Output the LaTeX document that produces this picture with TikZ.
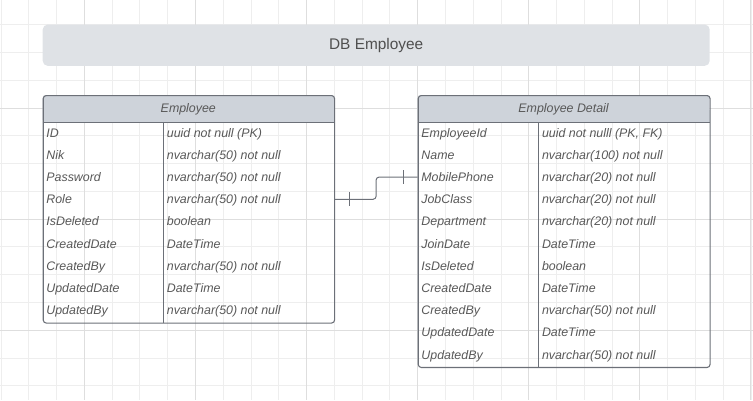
\documentclass[tikz,border=0pt]{standalone}
\usepackage{fontspec}
\setmainfont{Liberation Sans}
\usepackage{tikz}
\usetikzlibrary{positioning}
\definecolor{gridminor}{RGB}{238,238,238}
\definecolor{gridmajor}{RGB}{222,222,222}
\definecolor{titlefill}{RGB}{223,226,230}
\definecolor{headfill}{RGB}{206,211,218}
\definecolor{framegray}{RGB}{108,112,120}
\definecolor{textgray}{RGB}{88,88,88}

\begin{document}
\begin{tikzpicture}[x=1pt,y=-1pt,
  titlebox/.style={fill=titlefill,rounded corners=5,minimum width=667,minimum height=41.3,inner sep=0pt,text=textgray!90!black,font=\fontsize{15.4}{18}\selectfont},
  tableframe/.style={draw=framegray,line width=1.1pt,rounded corners=3,inner sep=0pt,anchor=north west},
  headtext/.style={inner sep=0pt,text=textgray,font=\fontsize{12.4}{14}\selectfont\itshape},
  field/.style={anchor=base west,inner sep=0pt,text=textgray,font=\fontsize{12.4}{14}\selectfont\itshape},
  link/.style={draw=framegray,line width=1pt,rounded corners=3}]
\useasboundingbox (0,0) rectangle (753,400);
% grid
\foreach \k in {0,...,27} \draw[gridminor,line width=0.9pt] ({0.97+27.78*\k},0) -- ({0.97+27.78*\k},400);
\foreach \k in {0,...,13} \draw[gridminor,line width=0.9pt] (0,{24.7+27.78*\k}) -- (753,{24.7+27.78*\k});
\foreach \x in {84.3,195.4,306.5,417.6,528.7,639.8,750.9} \draw[gridmajor,line width=0.9pt] (\x,0) -- (\x,400);
\foreach \y in {108,219.1,330.2} \draw[gridmajor,line width=0.9pt] (0,\y) -- (753,\y);
% title
\node[titlebox] (title) at (376.2,45.2) {DB Employee};
% employee table
\fill[headfill,rounded corners=3] (42.7,95) rectangle (334,122.7);
\fill[headfill] (42.7,110) rectangle (334,122.7);
\node[headtext] (emphead) at (188.3,109.1) {Employee};
\draw[framegray,line width=1.1pt] (42.7,122.7) -- (334,122.7);
\draw[framegray,line width=1pt] (163,122.7) -- (163,322.5);
\node[tableframe,minimum width=291.3,minimum height=227.5] (emp) at (42.7,95) {};
\foreach \f/\t [count=\i] in {ID/{uuid not null (PK)},Nik/{nvarchar(50) not null},Password/{nvarchar(50) not null},Role/{nvarchar(50) not null},IsDeleted/boolean,CreatedDate/DateTime,CreatedBy/{nvarchar(50) not null},UpdatedDate/DateTime,UpdatedBy/{nvarchar(50) not null}}{
  \node[field] (emp-\i) at (46.2,{114.9+22.2*\i}) {\f};
  \node[field] (emptype-\i) at (166.7,{114.9+22.2*\i}) {\t};
}
% employee detail table
\fill[headfill,rounded corners=3] (417.7,95) rectangle (709.5,122.7);
\fill[headfill] (417.7,110) rectangle (709.5,122.7);
\node[headtext] (dethead) at (563.6,109.1) {Employee Detail};
\draw[framegray,line width=1.1pt] (417.7,122.7) -- (709.5,122.7);
\draw[framegray,line width=1pt] (538.3,122.7) -- (538.3,366.9);
\node[tableframe,minimum width=291.8,minimum height=271.9] (det) at (417.7,95) {};
\foreach \f/\t [count=\i] in {EmployeeId/{uuid not nulll (PK, FK)},Name/{nvarchar(100) not null},MobilePhone/{nvarchar(20) not null},JobClass/{nvarchar(20) not null},Department/{nvarchar(20) not null},JoinDate/DateTime,IsDeleted/boolean,CreatedDate/DateTime,CreatedBy/{nvarchar(50) not null},UpdatedDate/DateTime,UpdatedBy/{nvarchar(50) not null}}{
  \node[field] (det-\i) at (421.2,{114.9+22.2*\i}) {\f};
  \node[field] (dettype-\i) at (541.8,{114.9+22.2*\i}) {\t};
}
% relation
\draw[link] (emp.east |- emp-4) -- ++(41,0) |- (det.west |- det-3);
\path (emp.east |- emp-4) ++(14.3,0) coordinate (tickA);
\path (det.west |- det-3) ++(-14.4,0) coordinate (tickB);
\draw[framegray,line width=1pt] (tickA) ++(0,-7) -- ++(0,14);
\draw[framegray,line width=1pt] (tickB) ++(0,-7) -- ++(0,14);
\end{tikzpicture}
\end{document}
